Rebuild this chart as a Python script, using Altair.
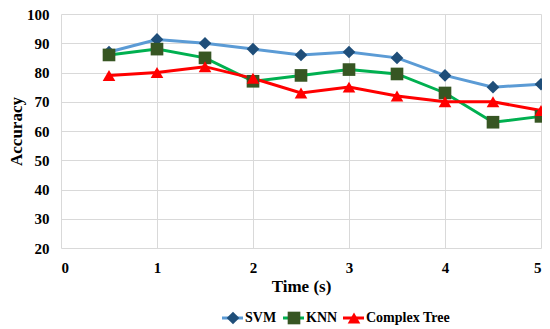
import altair as alt
import pandas as pd

times = [0.5, 1, 1.5, 2, 2.5, 3, 3.5, 4, 4.5, 5]
svm = [87, 91.3, 90, 88, 86, 87, 85, 79, 75, 76]
knn = [86, 88, 85, 77, 79, 81, 79.5, 73, 63, 65]
tree = [79, 80, 82, 78, 73, 75, 72, 70, 70, 67]
series = ["SVM", "KNN", "Complex Tree"]
line_colors = ["#5B9BD5", "#00B050", "#FF0000"]
marker_colors = ["#1F4E79", "#375623", "#FF0000"]
shapes = ["diamond", "square", "triangle-up"]

rows = []
for name, vals in zip(series, [svm, knn, tree]):
    for t, v in zip(times, vals):
        rows.append({"Time": t, "Accuracy": v, "Model": name, "Line": name})
df = pd.DataFrame(rows)

FONT = "Liberation Serif"

x = alt.X("Time:Q", title="Time (s)",
          scale=alt.Scale(domain=[0, 5], nice=False),
          axis=alt.Axis(values=[0, 1, 2, 3, 4, 5], format="d"))
y = alt.Y("Accuracy:Q", title="Accuracy",
          scale=alt.Scale(domain=[20, 100], nice=False),
          axis=alt.Axis(values=[20, 30, 40, 50, 60, 70, 80, 90, 100]))

lines = alt.Chart(df).mark_line(strokeWidth=3).encode(
    x=x, y=y,
    stroke=alt.Stroke("Line:N", scale=alt.Scale(domain=series, range=line_colors), legend=None),
    detail="Line:N",
)

points = alt.Chart(df).mark_point(filled=True, opacity=1, size=160).encode(
    x=x, y=y,
    fill=alt.Fill("Model:N", scale=alt.Scale(domain=series, range=marker_colors), legend=None),
    shape=alt.Shape("Model:N", scale=alt.Scale(domain=series, range=shapes), legend=None),
)

# legend drawn as marks below the plot
legend_layers = []
leg_y = 304
leg_starts = [161, 222, 282]
for name, lc, mc, sh, x0 in zip(series, line_colors, marker_colors, shapes, leg_starts):
    ldf = pd.DataFrame({"label": [name]})
    legend_layers.append(
        alt.Chart(ldf).mark_rule(strokeWidth=3, color=lc).encode(
            x=alt.value(x0), x2=alt.value(x0 + 21), y=alt.value(leg_y))
    )
    legend_layers.append(
        alt.Chart(ldf).mark_point(filled=True, opacity=1, size=160).encode(
            x=alt.value(x0 + 11), y=alt.value(leg_y),
            fill=alt.value(mc), shape=alt.value(sh))
    )
    legend_layers.append(
        alt.Chart(ldf).mark_text(align="left", baseline="middle", font=FONT,
                                 fontSize=14, fontWeight="bold", color="#000000").encode(
            x=alt.value(x0 + 23), y=alt.value(leg_y), text=alt.Text("label:N"))
    )

chart = alt.layer(lines, points, *legend_layers).properties(
    width=480, height=234,
    autosize=alt.AutoSizeParams(type="none"),
    padding={"left": 53, "top": 6, "right": 1, "bottom": 100},
).configure_axis(
    labelFont=FONT, labelFontSize=15, labelFontWeight="bold", labelColor="#000000",
    titleFont=FONT, titleFontSize=17, titleFontWeight="bold", titleColor="#000000",
    gridColor="#D9D9D9", gridWidth=1, domain=False, ticks=False,
).configure_axisX(labelPadding=12, titlePadding=3).configure_axisY(
    labelPadding=12, titlePadding=1
).configure_view(stroke=None)

chart.save("out.html", embed_options={"renderer": "svg", "actions": False})
